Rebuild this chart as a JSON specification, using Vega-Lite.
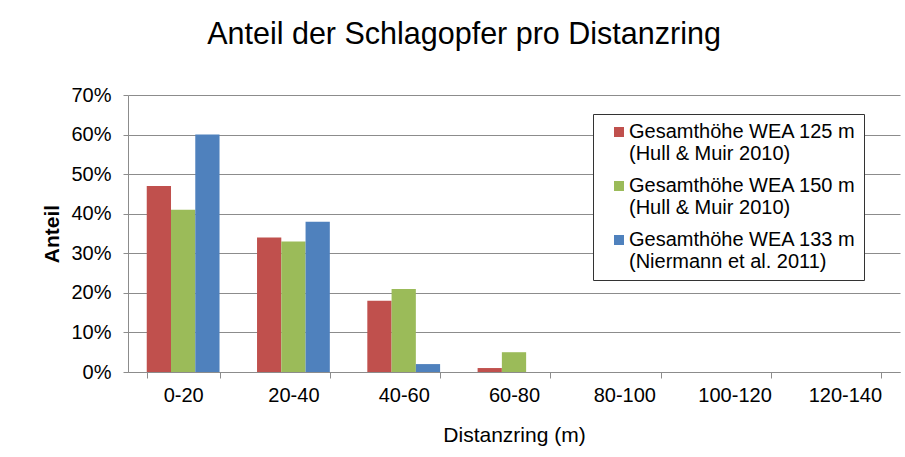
{
  "$schema": "https://vega.github.io/schema/vega-lite/v6.json",
  "width": 772,
  "height": 277,
  "padding": {"left": 41, "top": 19, "right": 5, "bottom": 5},
  "background": "white",
  "title": {
    "text": "Anteil der Schlagopfer pro Distanzring",
    "font": "Liberation Sans",
    "fontSize": 30.5,
    "fontWeight": "normal",
    "color": "black",
    "anchor": "middle",
    "offset": 35,
    "dx": -50
  },
  "data": {
    "values": [
      {"ring": "0-20", "serie": "Gesamthöhe WEA 125 m|(Hull & Muir 2010)", "anteil": 0.47},
      {"ring": "0-20", "serie": "Gesamthöhe WEA 150 m|(Hull & Muir 2010)", "anteil": 0.41},
      {"ring": "0-20", "serie": "Gesamthöhe WEA 133 m|(Niermann et al. 2011)", "anteil": 0.60},
      {"ring": "20-40", "serie": "Gesamthöhe WEA 125 m|(Hull & Muir 2010)", "anteil": 0.34},
      {"ring": "20-40", "serie": "Gesamthöhe WEA 150 m|(Hull & Muir 2010)", "anteil": 0.33},
      {"ring": "20-40", "serie": "Gesamthöhe WEA 133 m|(Niermann et al. 2011)", "anteil": 0.38},
      {"ring": "40-60", "serie": "Gesamthöhe WEA 125 m|(Hull & Muir 2010)", "anteil": 0.18},
      {"ring": "40-60", "serie": "Gesamthöhe WEA 150 m|(Hull & Muir 2010)", "anteil": 0.21},
      {"ring": "40-60", "serie": "Gesamthöhe WEA 133 m|(Niermann et al. 2011)", "anteil": 0.02},
      {"ring": "60-80", "serie": "Gesamthöhe WEA 125 m|(Hull & Muir 2010)", "anteil": 0.01},
      {"ring": "60-80", "serie": "Gesamthöhe WEA 150 m|(Hull & Muir 2010)", "anteil": 0.05},
      {"ring": "60-80", "serie": "Gesamthöhe WEA 133 m|(Niermann et al. 2011)", "anteil": 0.0},
      {"ring": "80-100", "serie": "Gesamthöhe WEA 125 m|(Hull & Muir 2010)", "anteil": 0.0},
      {"ring": "80-100", "serie": "Gesamthöhe WEA 150 m|(Hull & Muir 2010)", "anteil": 0.0},
      {"ring": "80-100", "serie": "Gesamthöhe WEA 133 m|(Niermann et al. 2011)", "anteil": 0.0},
      {"ring": "100-120", "serie": "Gesamthöhe WEA 125 m|(Hull & Muir 2010)", "anteil": 0.0},
      {"ring": "100-120", "serie": "Gesamthöhe WEA 150 m|(Hull & Muir 2010)", "anteil": 0.0},
      {"ring": "100-120", "serie": "Gesamthöhe WEA 133 m|(Niermann et al. 2011)", "anteil": 0.0},
      {"ring": "120-140", "serie": "Gesamthöhe WEA 125 m|(Hull & Muir 2010)", "anteil": 0.0},
      {"ring": "120-140", "serie": "Gesamthöhe WEA 150 m|(Hull & Muir 2010)", "anteil": 0.0},
      {"ring": "120-140", "serie": "Gesamthöhe WEA 133 m|(Niermann et al. 2011)", "anteil": 0.0}
    ]
  },
  "mark": {"type": "bar"},
  "encoding": {
    "x": {
      "field": "ring",
      "type": "nominal",
      "sort": ["0-20", "20-40", "40-60", "60-80", "80-100", "100-120", "120-140"],
      "scale": {"paddingInner": 0.34, "paddingOuter": 0.17},
      "axis": {
        "title": "Distanzring (m)",
        "labelAngle": 0,
        "tickBand": "extent",
        "grid": false,
        "domainColor": "#8c8c8c",
        "tickColor": "#8c8c8c",
        "tickSize": 6,
        "labelPadding": 7,
        "labelFontSize": 20,
        "labelFont": "Liberation Sans",
        "labelColor": "black",
        "titleFont": "Liberation Sans",
        "titleFontSize": 21,
        "titleFontWeight": "normal",
        "titleColor": "black",
        "titlePadding": 19
      }
    },
    "xOffset": {
      "field": "serie",
      "type": "nominal",
      "scale": {"domain": ["Gesamthöhe WEA 125 m|(Hull & Muir 2010)", "Gesamthöhe WEA 150 m|(Hull & Muir 2010)", "Gesamthöhe WEA 133 m|(Niermann et al. 2011)"], "paddingInner": 0, "paddingOuter": 0}
    },
    "y": {
      "field": "anteil",
      "type": "quantitative",
      "scale": {"domain": [0, 0.7], "nice": false},
      "axis": {
        "title": "Anteil",
        "format": ".0%",
        "values": [0, 0.1, 0.2, 0.3, 0.4, 0.5, 0.6, 0.7],
        "grid": true,
        "gridColor": "#8c8c8c",
        "gridWidth": 1,
        "domainColor": "#8c8c8c",
        "tickColor": "#8c8c8c",
        "tickSize": 5,
        "labelPadding": 12,
        "labelFontSize": 20,
        "labelFont": "Liberation Sans",
        "labelColor": "black",
        "titleFont": "Liberation Sans",
        "titleFontSize": 21,
        "titleFontWeight": "bold",
        "titleColor": "black",
        "titlePadding": 8
      }
    },
    "color": {
      "field": "serie",
      "type": "nominal",
      "scale": {
        "domain": ["Gesamthöhe WEA 125 m|(Hull & Muir 2010)", "Gesamthöhe WEA 150 m|(Hull & Muir 2010)", "Gesamthöhe WEA 133 m|(Niermann et al. 2011)"],
        "range": ["#C0504D", "#9BBB59", "#4F81BD"]
      },
      "legend": {
        "title": null,
        "orient": "none",
        "legendX": 465,
        "legendY": 19,
        "labelExpr": "[split(datum.label, '|')[0] + '\u2007', split(datum.label, '|')[1]]",
        "labelFont": "Liberation Sans",
        "labelFontSize": 20,
        "labelColor": "black",
        "labelBaseline": "middle",
        "labelLimit": 400,
        "labelOffset": 0,
        "symbolType": "square",
        "symbolSize": 100,
        "symbolStrokeWidth": 0,
        "symbolOffset": 8,
        "rowPadding": 12,
        "padding": 8,
        "fillColor": "white",
        "strokeColor": "#333333",
        "cornerRadius": 0,
        "labelLineHeight": 22
      }
    }
  },
  "config": {
    "view": {"stroke": null},
    "font": "Liberation Sans"
  }
}
